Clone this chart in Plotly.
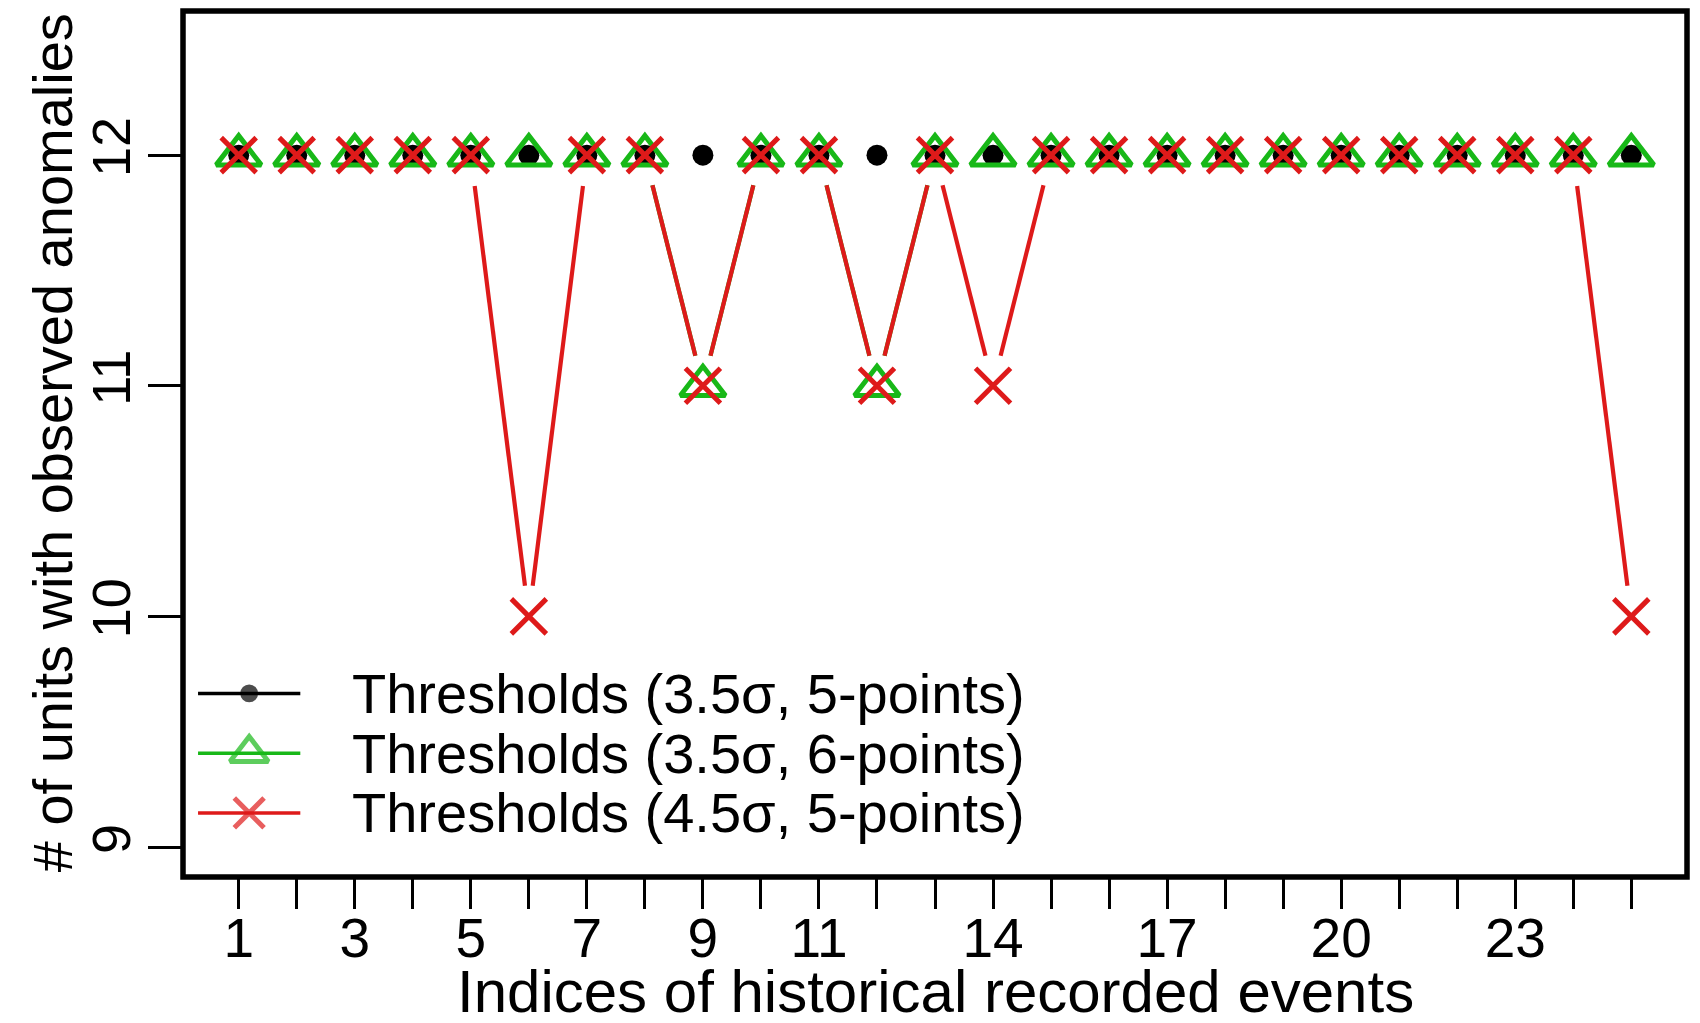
import math
import plotly.graph_objects as go

# ---- data -------------------------------------------------------------
events = [1, 2, 3, 4, 5, 6, 7, 8, 9, 10, 11, 12, 13,
          14, 15, 16, 17, 18, 19, 20, 21, 22, 23, 24, 25]

thr_35_5pt = [12, 12, 12, 12, 12, 12, 12, 12, 12, 12, 12, 12, 12,
              12, 12, 12, 12, 12, 12, 12, 12, 12, 12, 12, 12]
thr_35_6pt = [12, 12, 12, 12, 12, 12, 12, 12, 11, 12, 12, 11, 12,
              12, 12, 12, 12, 12, 12, 12, 12, 12, 12, 12, 12]
thr_45_5pt = [12, 12, 12, 12, 12, 10, 12, 12, 11, 12, 12, 11, 12,
              11, 12, 12, 12, 12, 12, 12, 12, 12, 12, 12, 10]

series_names = ["Thresholds (3.5σ, 5-points)",
                "Thresholds (3.5σ, 6-points)",
                "Thresholds (4.5σ, 5-points)"]

x_label_vals = [1, 3, 5, 7, 9, 11, 14, 17, 20, 23]
y_tick_vals = [9, 10, 11, 12]

x_title = "Indices of historical recorded events"
y_title = "# of units with observed anomalies"

# ---- layout geometry ---------------------------------------------------
W, H = 1700, 1023
M_L, M_R, M_T, M_B = 183, 13, 11, 146
PLOT_W = W - M_L - M_R
PLOT_H = H - M_T - M_B
X_RANGE = [0.04, 25.96]
Y_RANGE = [8.87, 12.625]
PX_X = PLOT_W / (X_RANGE[1] - X_RANGE[0])
PX_Y = PLOT_H / (Y_RANGE[1] - Y_RANGE[0])
GAP_PX = 31  # blank space left around each point on the connecting lines

FONT = "Liberation Sans, Arial, Helvetica, sans-serif"
BLACK = "#000000"
GREEN = "rgb(24,184,24)"
RED = "rgb(222,26,26)"

styles = [
    dict(color=BLACK, symbol="circle", size=21, lw=0),
    dict(color=GREEN, symbol="triangle-up-open", size=39, lw=5),
    dict(color=RED, symbol="x-thin-open", size=35, lw=5),
]


def gapped_segments(xs, ys):
    """Connecting segments with a gap around every point (type='b' lines)."""
    sx, sy = [], []
    for x0, y0, x1, y1 in zip(xs[:-1], ys[:-1], xs[1:], ys[1:]):
        dx, dy = (x1 - x0) * PX_X, (y1 - y0) * PX_Y
        length = math.hypot(dx, dy)
        f = GAP_PX / length
        if f < 0.5:
            sx += [x0 + f * (x1 - x0), x1 - f * (x1 - x0), None]
            sy += [y0 + f * (y1 - y0), y1 - f * (y1 - y0), None]
    return sx, sy


fig = go.Figure()

for name, ys, st in zip(series_names, [thr_35_5pt, thr_35_6pt, thr_45_5pt], styles):
    sx, sy = gapped_segments(events, ys)
    fig.add_trace(go.Scatter(
        x=sx, y=sy, mode="lines", name=name, showlegend=False,
        line=dict(color=st["color"], width=4.2), hoverinfo="skip"))
    fig.add_trace(go.Scatter(
        x=events, y=ys, mode="markers", name=name, showlegend=False,
        marker=dict(symbol=st["symbol"], size=st["size"], color=st["color"],
                    line=dict(color=st["color"], width=st["lw"]))))

# ---- legend (drawn on an overlay axis spanning the plot area 0..1) ----
leg_line_x = [0.010, 0.044, 0.078]
leg_text_x = 0.111
leg_rows_y = [0.212, 0.143, 0.074]
for name, st, ry in zip(series_names, styles, leg_rows_y):
    fig.add_trace(go.Scatter(
        x=leg_line_x, y=[ry, ry, ry], mode="lines+markers", xaxis="x2", yaxis="y2",
        showlegend=False, hoverinfo="skip",
        line=dict(color=st["color"], width=3.5),
        marker=dict(symbol=st["symbol"], size=[0, st["size"] * 0.85, 0],
                    color=st["color"],
                    line=dict(color=st["color"], width=st["lw"]))))
    fig.add_annotation(
        x=leg_text_x, y=ry, xref="x2", yref="y2", text=name, showarrow=False,
        xanchor="left", yanchor="middle", font=dict(family=FONT, size=56, color="black"))

# ---- axis titles ---------------------------------------------------------
fig.add_annotation(
    x=0.5, y=-0.132, xref="paper", yref="paper", text=x_title, showarrow=False,
    xanchor="center", yanchor="middle", font=dict(family=FONT, size=60, color="black"))
fig.add_annotation(
    x=-0.087, y=0.501, xref="paper", yref="paper", text=y_title, showarrow=False,
    textangle=-90, xanchor="center", yanchor="middle",
    font=dict(family=FONT, size=56, color="black"))

# ---- frame -------------------------------------------------------------
fig.add_shape(type="rect", xref="paper", yref="paper", x0=0, y0=0, x1=1, y1=1,
              line=dict(color="black", width=5.5), layer="above")

fig.update_layout(
    width=W, height=H,
    margin=dict(l=M_L, r=M_R, t=M_T, b=M_B, pad=0),
    paper_bgcolor="white", plot_bgcolor="white",
    font=dict(family=FONT, color="black"),
    showlegend=False,
    xaxis=dict(
        range=X_RANGE, showgrid=False, zeroline=False, showline=False,
        automargin=False,
        tickmode="array", tickvals=x_label_vals,
        ticks="outside", ticklen=31, tickwidth=2.5, tickcolor="black",
        ticklabelstandoff=-18,
        tickfont=dict(family=FONT, size=55),
        minor=dict(tickvals=events, ticks="outside", ticklen=31,
                   tickwidth=2.5, tickcolor="black", showgrid=False),
    ),
    yaxis=dict(
        range=Y_RANGE, showgrid=False, zeroline=False, showline=False,
        automargin=False,
        tickmode="array", tickvals=y_tick_vals, tickangle=-90,
        ticks="outside", ticklen=34, tickwidth=2.5, tickcolor="black",
        ticklabelstandoff=-4,
        tickfont=dict(family=FONT, size=54),
    ),
    xaxis2=dict(overlaying="x", range=[0, 1], visible=False, fixedrange=True),
    yaxis2=dict(overlaying="y", range=[0, 1], visible=False, fixedrange=True),
)

fig.write_html("out.html")
